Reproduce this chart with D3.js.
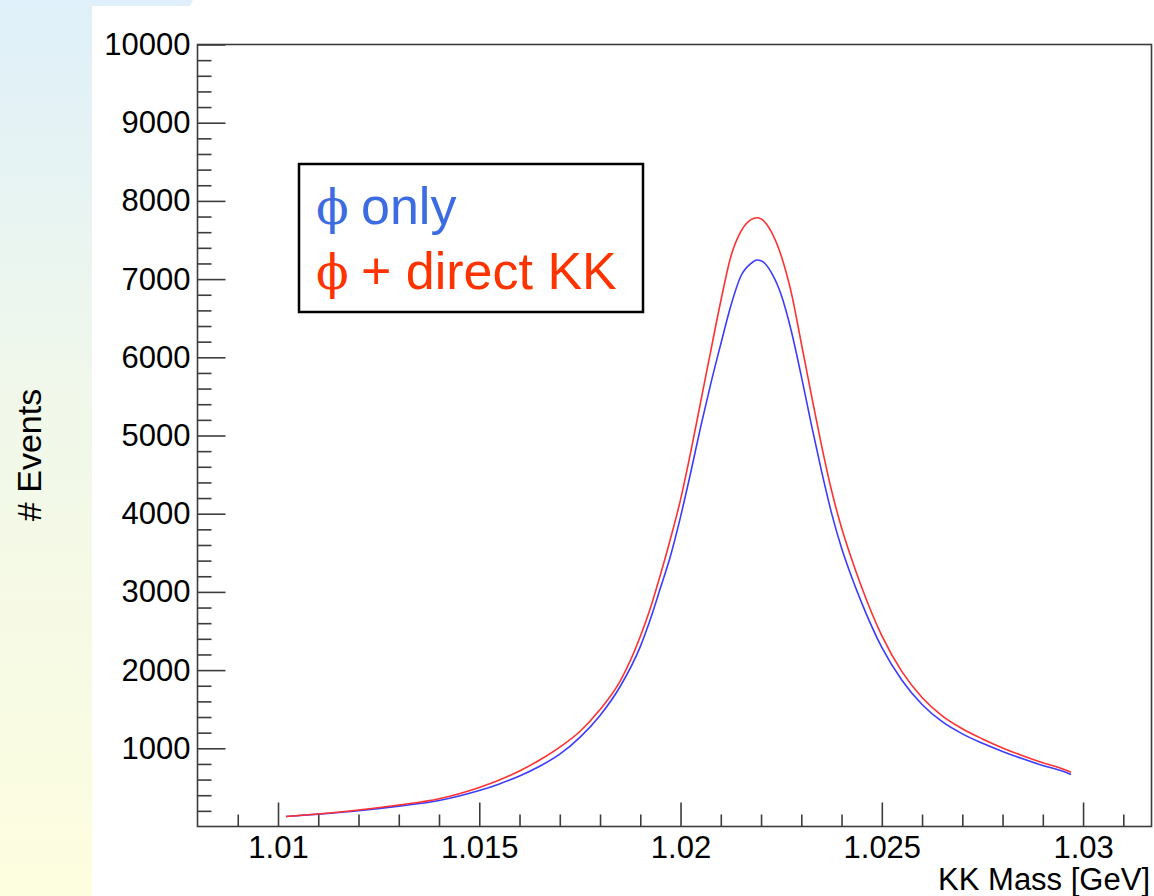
<!DOCTYPE html>
<html>
<head>
<meta charset="utf-8">
<script src="https://cdn.jsdelivr.net/npm/d3@7"></script>
<style>
  body { margin: 0; background: #fff; }
  svg { display: block; }
</style>
</head>
<body>
<div id="chart"></div>
<script>
// values
var mass = [1.0102, 1.011, 1.012, 1.013, 1.014, 1.0145, 1.015, 1.0155, 1.016, 1.0165,
  1.017, 1.0175, 1.018, 1.0185, 1.019, 1.01925, 1.0195, 1.01975, 1.02, 1.02025,
  1.0205, 1.02075, 1.021, 1.02125, 1.0215, 1.02175, 1.0219, 1.022, 1.02225, 1.0225,
  1.02275, 1.023, 1.02325, 1.0235, 1.02375, 1.024, 1.02425, 1.0245, 1.025, 1.0255,
  1.026, 1.0265, 1.027, 1.0275, 1.028, 1.0285, 1.029, 1.0295, 1.0297];

var phiOnly = [128, 158, 202, 260, 332, 390, 460, 545, 645, 770,
  925, 1140, 1420, 1790, 2300, 2650, 3050, 3460, 3960, 4520,
  5110, 5660, 6170, 6660, 7040, 7200, 7245, 7235, 7090, 6800,
  6340, 5760, 5140, 4550, 4010, 3560, 3190, 2860, 2290, 1870,
  1560, 1340, 1185, 1065, 960, 865, 780, 705, 665];

var phiDirectKK = [128, 160, 210, 275, 355, 420, 500, 595, 710, 850,
  1015, 1215, 1495, 1860, 2430, 2790, 3220, 3680, 4180, 4780,
  5430, 6080, 6720, 7290, 7610, 7760, 7785, 7770, 7610, 7300,
  6830, 6180, 5520, 4880, 4300, 3820, 3420, 3060, 2440, 1980,
  1650, 1415, 1250, 1120, 1005, 905, 815, 735, 694];

var xTicks = [1.01, 1.015, 1.02, 1.025, 1.03];
var xTickLabels = ["1.01", "1.015", "1.02", "1.025", "1.03"];
var xMinor = [1.009, 1.011, 1.012, 1.013, 1.014, 1.016, 1.017, 1.018, 1.019,
  1.021, 1.022, 1.023, 1.024, 1.026, 1.027, 1.028, 1.029, 1.031];
var yTicks = [1000, 2000, 3000, 4000, 5000, 6000, 7000, 8000, 9000, 10000];
var yMinor = [200, 400, 600, 800, 1200, 1400, 1600, 1800, 2200, 2400, 2600, 2800,
  3200, 3400, 3600, 3800, 4200, 4400, 4600, 4800, 5200, 5400, 5600, 5800,
  6200, 6400, 6600, 6800, 7200, 7400, 7600, 7800, 8200, 8400, 8600, 8800,
  9200, 9400, 9600, 9800];

var legendLabels = ["only", "+ direct KK"];

(function() {
  var width = 1154, height = 896;
  var margin = { left: 197.5, right: 1151.5, top: 44.5, bottom: 826.5 };

  var svg = d3.select("#chart").append("svg")
    .attr("width", width)
    .attr("height", height);

  // slide background
  var defs = svg.append("defs");
  var grad = defs.append("linearGradient")
    .attr("id", "bg").attr("x1", 0).attr("y1", 0).attr("x2", 0).attr("y2", 1);
  grad.append("stop").attr("offset", "0%").attr("stop-color", "#dff0fa");
  grad.append("stop").attr("offset", "45%").attr("stop-color", "#f1f8ea");
  grad.append("stop").attr("offset", "100%").attr("stop-color", "#fdfddf");

  svg.append("rect").attr("width", width).attr("height", height).attr("fill", "url(#bg)");
  svg.append("path")
    .attr("d", "M92,896 L92,6 L190,6 L193,0 L1154,0 L1154,896 Z")
    .attr("fill", "#fff");

  var x = d3.scaleLinear().domain([1.008, 1.0317]).range([margin.left, margin.right]);
  var y = d3.scaleLinear().domain([0, 10000]).range([margin.bottom, margin.top]);

  var font = "'Liberation Sans', Arial, Helvetica, sans-serif";
  var axisCol = "#3c3c3c";

  // y axis, ticks point into the frame
  svg.append("g")
    .attr("transform", "translate(" + margin.left + ",0)")
    .call(d3.axisLeft(y).tickValues(yTicks).tickSize(-28).tickSizeOuter(0).tickPadding(7)
      .tickFormat(d3.format("d")));
  svg.append("g")
    .attr("transform", "translate(" + margin.left + ",0)")
    .call(d3.axisLeft(y).tickValues(yMinor).tickSize(-14).tickSizeOuter(0).tickFormat(""));

  // x axis
  svg.append("g")
    .attr("transform", "translate(0," + margin.bottom + ")")
    .call(d3.axisBottom(x).tickValues(xTicks).tickSize(-24).tickSizeOuter(0).tickPadding(9)
      .tickFormat(function(d, i) { return xTickLabels[i]; }));
  svg.append("g")
    .attr("transform", "translate(0," + margin.bottom + ")")
    .call(d3.axisBottom(x).tickValues(xMinor).tickSize(-12).tickSizeOuter(0).tickFormat(""));

  svg.selectAll(".domain").remove();
  svg.selectAll(".tick line").attr("stroke", axisCol).attr("stroke-width", 1.6);
  svg.selectAll(".tick text")
    .attr("font-family", font)
    .attr("font-size", 31)
    .attr("fill", "#000");

  // frame
  svg.append("rect")
    .attr("x", margin.left).attr("y", margin.top)
    .attr("width", margin.right - margin.left).attr("height", margin.bottom - margin.top)
    .attr("fill", "none")
    .attr("stroke", axisCol)
    .attr("stroke-width", 1.6);

  // curves
  var pts = mass.map(function(m, i) { return { m: m, a: phiOnly[i], b: phiDirectKK[i] }; });

  var lineA = d3.line().x(function(d) { return x(d.m); }).y(function(d) { return y(d.a); })
    .curve(d3.curveMonotoneX);
  var lineB = d3.line().x(function(d) { return x(d.m); }).y(function(d) { return y(d.b); })
    .curve(d3.curveMonotoneX);

  svg.append("path").datum(pts)
    .attr("d", lineA)
    .attr("fill", "none")
    .attr("stroke", "#3b3bff")
    .attr("stroke-width", 1.6);
  svg.append("path").datum(pts)
    .attr("d", lineB)
    .attr("fill", "none")
    .attr("stroke", "#ff3030")
    .attr("stroke-width", 1.6);

  // axis titles
  svg.append("text")
    .attr("x", 1150).attr("y", 890)
    .attr("text-anchor", "end")
    .attr("font-family", font)
    .attr("font-size", 31)
    .text("KK Mass [GeV]");

  svg.append("text")
    .attr("transform", "translate(41,455) rotate(-90)")
    .attr("text-anchor", "middle")
    .attr("font-family", font)
    .attr("font-size", 34)
    .text("# Events");

  // legend
  var legend = svg.append("g");
  legend.append("rect")
    .attr("x", 299).attr("y", 164)
    .attr("width", 344).attr("height", 148)
    .attr("fill", "#fff")
    .attr("stroke", "#000")
    .attr("stroke-width", 2.5);

  var legendColors = ["#3d6ce2", "#ff3300"];
  var legendY = [224, 289];
  legendLabels.forEach(function(lab, i) {
    legend.append("text")
      .attr("x", 316).attr("y", legendY[i])
      .attr("font-family", "'DejaVu Serif', 'Liberation Serif', serif")
      .attr("font-size", 48)
      .attr("fill", legendColors[i])
      .text("\u03D5");
    legend.append("text")
      .attr("x", 361).attr("y", legendY[i])
      .attr("font-family", font)
      .attr("font-size", 52)
      .attr("fill", legendColors[i])
      .text(lab);
  });
})();
</script>
</body>
</html>
